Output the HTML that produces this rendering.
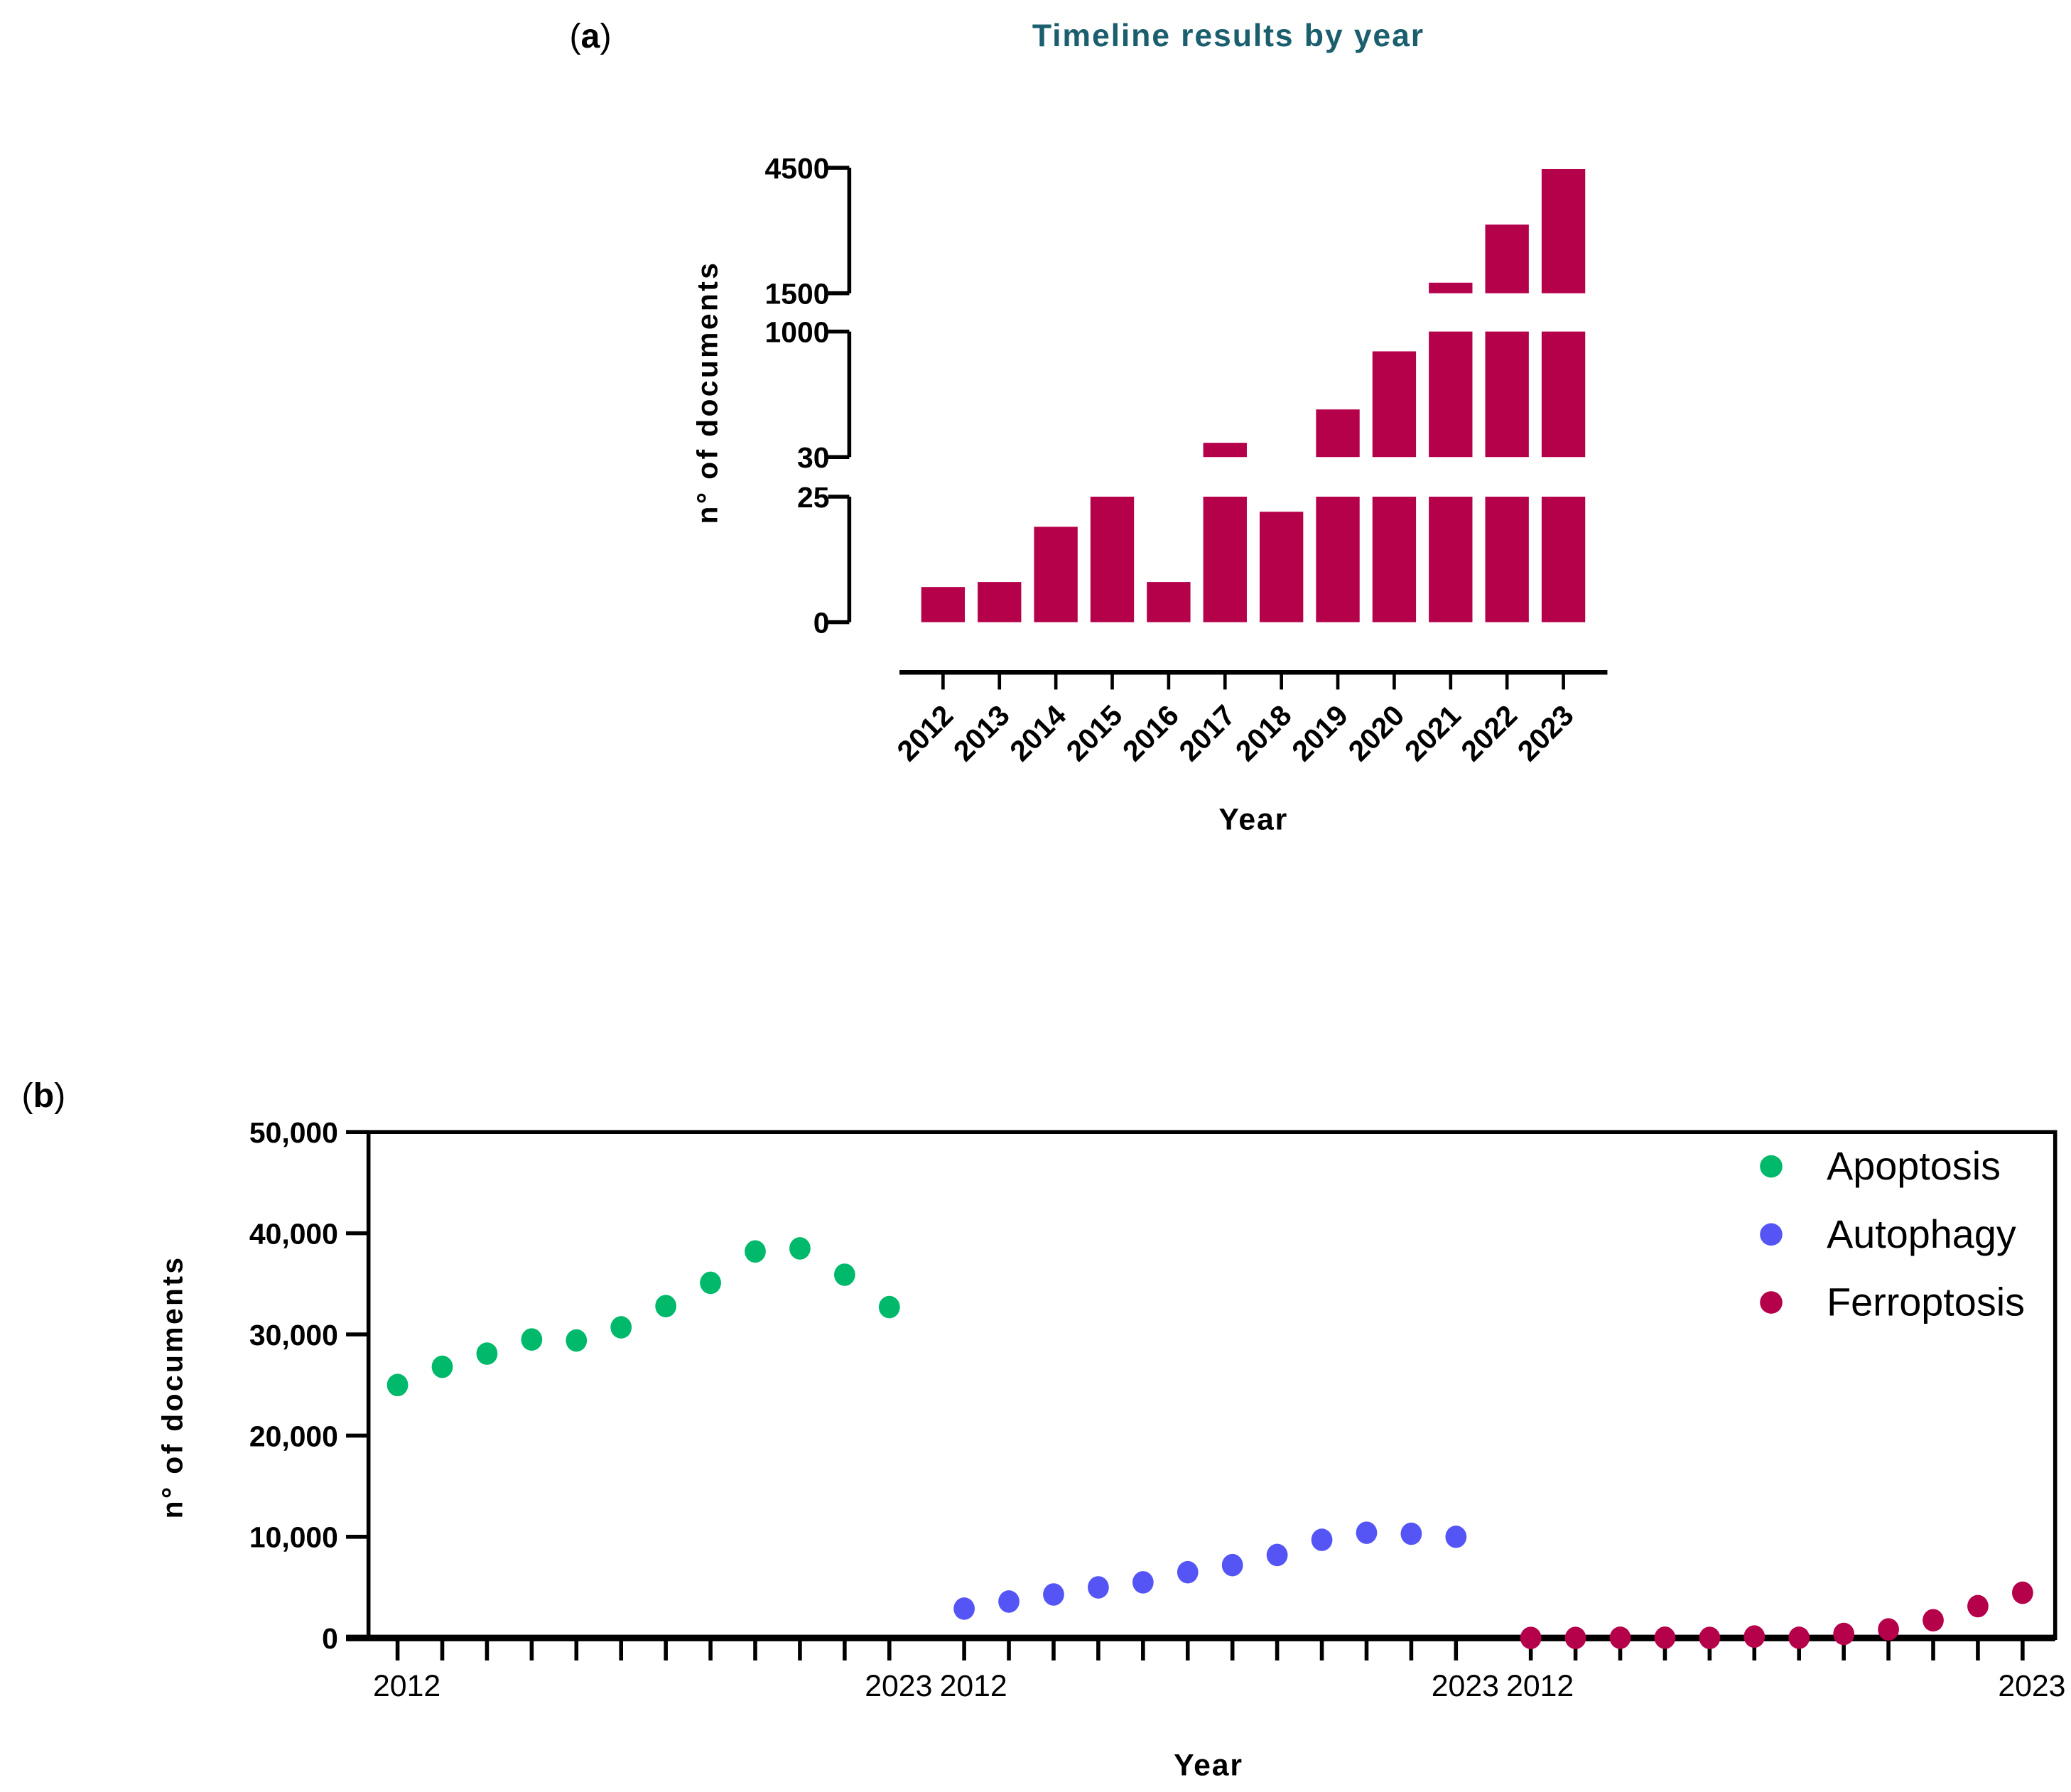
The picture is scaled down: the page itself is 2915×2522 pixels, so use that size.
<!DOCTYPE html>
<html><head><meta charset="utf-8">
<style>
html,body{margin:0;padding:0;background:#fff;}
svg{display:block;}
text{font-family:"Liberation Sans",Arial,sans-serif;}
</style></head>
<body>
<svg id="fig" width="2915" height="2522" viewBox="0 0 1568 1356.6" xmlns="http://www.w3.org/2000/svg">
<text x="447" y="36" font-size="26" text-anchor="middle">(<tspan font-weight="bold">a</tspan>)</text>
<text x="930" y="35" font-size="24" font-weight="bold" fill="#1b5f6e" text-anchor="middle" letter-spacing="1">Timeline results by year</text>
<text x="33" y="838" font-size="26" text-anchor="middle">(<tspan font-weight="bold">b</tspan>)</text>
<g id="ga"></g>
<g id="gb"></g>
</svg>
<script>
// Chart A data
const yearsA = ["2012","2013","2014","2015","2016","2017","2018","2019","2020","2021","2022","2023"];
const docsA = [7, 8, 19, 25.5, 8, 140, 22, 398, 847, 1753, 3142, 4468];
const segTicksA = ["0","25","30","1000","1500","4500"];
// Chart B data
const yearsB = ["2012","2023"];
const apoptosis = [25000,26800,28100,29500,29400,30700,32800,35100,38200,38500,35900,32700];
const autophagy = [2900,3600,4300,5000,5500,6500,7200,8200,9700,10400,10300,10000];
const ferroptosis = [7,8,19,25,8,140,22,398,847,1753,3142,4468];
const yTicksB = [0,10000,20000,30000,40000,50000];
const yTickLabelsB = ["0","10,000","20,000","30,000","40,000","50,000"];
const seriesNames = ["Apoptosis","Autophagy","Ferroptosis"];

const NS="http://www.w3.org/2000/svg";
function mk(tag,attrs,parent,txt){const e=document.createElementNS(NS,tag);for(const k in attrs)e.setAttribute(k,attrs[k]);if(txt!==undefined)e.textContent=txt;parent.appendChild(e);return e;}

// ---- Chart A ----
const ga=document.getElementById('ga');
const segs=[{lo:0,hi:25,y0:471,y1:376},{lo:30,hi:1000,y0:346,y1:251},{lo:1500,hi:4500,y0:222,y1:127}];
function xA(i){return 714+i*42.7;}
const barW=33, CRIM="#b5004a";
yearsA.forEach((yr,i)=>{
  const v=docsA[i];
  segs.forEach((s,si)=>{
    if(v<=s.lo) return;
    const top=Math.min(v,s.hi);
    const yt=s.y0-(top-s.lo)/(s.hi-s.lo)*(s.y0-s.y1);
    const r=mk('rect',{x:xA(i)-barW/2,y:yt,width:barW,height:s.y0-yt,fill:CRIM},ga);
    
    
  });
  const t=mk('line',{x1:xA(i),y1:509,x2:xA(i),y2:522,stroke:'#000','stroke-width':2.5},ga);
  
  
  const lb=mk('text',{x:xA(i)+9,y:543,'font-size':22,'font-weight':'bold','text-anchor':'end',transform:`rotate(-45 ${xA(i)+9} 543)`},ga,yr);
  
  
});
segs.forEach((s,si)=>{
  const l=mk('line',{x1:643,y1:s.y0,x2:643,y2:s.y1,stroke:'#000','stroke-width':3},ga);
  
  
});
const tickYs=[471,376,346,251,222,127];
segTicksA.forEach((lab,k)=>{
  const y=tickYs[k];
  const l=mk('line',{x1:627,y1:y,x2:643,y2:y,stroke:'#000','stroke-width':3},ga);
  
  
  const t=mk('text',{x:628,y:y+8,'font-size':22,'font-weight':'bold','text-anchor':'end'},ga,lab);
  
  
});
const xa=mk('line',{x1:681,y1:509,x2:1217,y2:509,stroke:'#000','stroke-width':3.5},ga);


const ya=mk('text',{x:0,y:0,'font-size':22,'font-weight':'bold','text-anchor':'middle','letter-spacing':1.8,transform:'translate(543 297) rotate(-90)'},ga,'n° of documents');


const xt=mk('text',{x:949,y:628,'font-size':23,'font-weight':'bold','text-anchor':'middle','letter-spacing':1},ga,'Year');



// ---- Chart B ----
const gb=document.getElementById('gb');
const L=279,R=1556,T=857,B=1240;
function yB(v){return B-v/50000*(B-T);}
const frame=mk('rect',{x:L,y:T,width:R-L,height:B-T,fill:'none',stroke:'#000','stroke-width':3},gb);


const bx=mk('line',{x1:262,y1:B,x2:R,y2:B,stroke:'#000','stroke-width':5},gb);


yTicksB.forEach((v,k)=>{
  const y=yB(v);
  const l=mk('line',{x1:262,y1:y,x2:L,y2:y,stroke:'#000','stroke-width':3},gb);
  
  
  const t=mk('text',{x:256,y:y+8,'font-size':22,'font-weight':'bold','text-anchor':'end'},gb,yTickLabelsB[k]);
  
  
});
const starts=[301,730,1159], step=33.85;
const colors=["#00b96b","#5555f5","#b5004a"];
[apoptosis,autophagy,ferroptosis].forEach((arr,si)=>{
  arr.forEach((v,i)=>{
    const x=starts[si]+i*step;
    const tk=mk('line',{x1:x,y1:B,x2:x,y2:1257,stroke:'#000','stroke-width':3},gb);
    
    
    const c=mk('ellipse',{cx:x,cy:yB(v),rx:8,ry:8.5,fill:colors[si]},gb);
    
    
  });
  yearsB.forEach((yr,k)=>{
    const x=starts[si]+k*11*step;
    const t=mk('text',{x:x+7,y:1284,'font-size':23,'text-anchor':'middle'},gb,yr);
    
    
  });
  const ly=883+si*51.5;
  const ld=mk('circle',{cx:1341,cy:ly,r:8.5,fill:colors[si]},gb);
  
  
  const lt=mk('text',{x:1383,y:ly+10,'font-size':30},gb,seriesNames[si]);
  
  
});
const yb=mk('text',{x:0,y:0,'font-size':22,'font-weight':'bold','text-anchor':'middle','letter-spacing':1.8,transform:'translate(138 1050) rotate(-90)'},gb,'n° of documents');


const xb=mk('text',{x:915,y:1344,'font-size':23,'font-weight':'bold','text-anchor':'middle','letter-spacing':1},gb,'Year');


</script>
</body></html>
